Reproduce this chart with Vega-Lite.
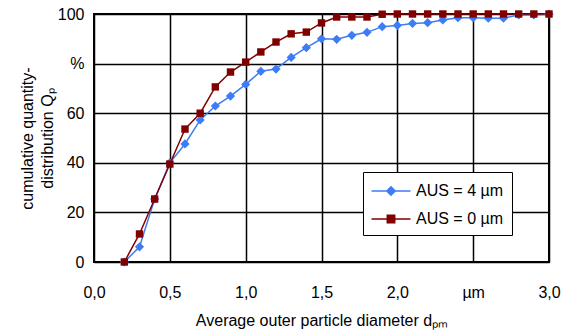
{
  "$schema": "https://vega.github.io/schema/vega-lite/v6.json",
  "width": 455,
  "height": 248,
  "autosize": {"type": "none"},
  "padding": {"left": 94, "top": 14, "right": 21, "bottom": 72},
  "background": "white",
  "config": {
    "font": "Liberation Sans",
    "view": {"stroke": "black", "strokeWidth": 2},
    "axis": {
      "labelFont": "Liberation Sans",
      "titleFont": "Liberation Sans",
      "labelFontSize": 16,
      "titleFontSize": 16,
      "titleFontWeight": "normal",
      "labelColor": "black",
      "titleColor": "black",
      "domain": false,
      "ticks": false,
      "gridColor": "black",
      "gridWidth": 1.5,
      "gridOpacity": 1
    }
  },
  "data": {
    "values": [
      {"d": 0.2, "Q": 0, "A": "4"},
      {"d": 0.3, "Q": 6.1, "A": "4"},
      {"d": 0.4, "Q": 25.4, "A": "4"},
      {"d": 0.5, "Q": 40, "A": "4"},
      {"d": 0.6, "Q": 47.6, "A": "4"},
      {"d": 0.7, "Q": 57.3, "A": "4"},
      {"d": 0.8, "Q": 62.9, "A": "4"},
      {"d": 0.9, "Q": 66.9, "A": "4"},
      {"d": 1.0, "Q": 71.6, "A": "4"},
      {"d": 1.1, "Q": 76.9, "A": "4"},
      {"d": 1.2, "Q": 77.8, "A": "4"},
      {"d": 1.3, "Q": 82.5, "A": "4"},
      {"d": 1.4, "Q": 86.4, "A": "4"},
      {"d": 1.5, "Q": 90.0, "A": "4"},
      {"d": 1.6, "Q": 89.8, "A": "4"},
      {"d": 1.7, "Q": 91.4, "A": "4"},
      {"d": 1.8, "Q": 92.6, "A": "4"},
      {"d": 1.9, "Q": 94.9, "A": "4"},
      {"d": 2.0, "Q": 95.4, "A": "4"},
      {"d": 2.1, "Q": 96.2, "A": "4"},
      {"d": 2.2, "Q": 96.5, "A": "4"},
      {"d": 2.3, "Q": 97.6, "A": "4"},
      {"d": 2.4, "Q": 98.5, "A": "4"},
      {"d": 2.5, "Q": 98.5, "A": "4"},
      {"d": 2.6, "Q": 98.3, "A": "4"},
      {"d": 2.7, "Q": 98.3, "A": "4"},
      {"d": 2.8, "Q": 99.6, "A": "4"},
      {"d": 2.9, "Q": 99.6, "A": "4"},
      {"d": 3.0, "Q": 100, "A": "4"},
      {"d": 0.2, "Q": 0, "A": "0"},
      {"d": 0.3, "Q": 11.3, "A": "0"},
      {"d": 0.4, "Q": 25.4, "A": "0"},
      {"d": 0.5, "Q": 39.5, "A": "0"},
      {"d": 0.6, "Q": 53.6, "A": "0"},
      {"d": 0.7, "Q": 60, "A": "0"},
      {"d": 0.8, "Q": 70.6, "A": "0"},
      {"d": 0.9, "Q": 76.6, "A": "0"},
      {"d": 1.0, "Q": 80.6, "A": "0"},
      {"d": 1.1, "Q": 84.7, "A": "0"},
      {"d": 1.2, "Q": 88.7, "A": "0"},
      {"d": 1.3, "Q": 92, "A": "0"},
      {"d": 1.4, "Q": 92.7, "A": "0"},
      {"d": 1.5, "Q": 96.4, "A": "0"},
      {"d": 1.6, "Q": 98.8, "A": "0"},
      {"d": 1.7, "Q": 98.8, "A": "0"},
      {"d": 1.8, "Q": 98.8, "A": "0"},
      {"d": 1.9, "Q": 99.9, "A": "0"},
      {"d": 2.0, "Q": 100, "A": "0"},
      {"d": 2.1, "Q": 100, "A": "0"},
      {"d": 2.2, "Q": 100, "A": "0"},
      {"d": 2.3, "Q": 100, "A": "0"},
      {"d": 2.4, "Q": 100, "A": "0"},
      {"d": 2.5, "Q": 100, "A": "0"},
      {"d": 2.6, "Q": 100, "A": "0"},
      {"d": 2.7, "Q": 100, "A": "0"},
      {"d": 2.8, "Q": 100, "A": "0"},
      {"d": 2.9, "Q": 100, "A": "0"},
      {"d": 3.0, "Q": 100, "A": "0"}
    ]
  },
  "encoding": {
    "x": {
      "field": "d",
      "type": "quantitative",
      "scale": {"domain": [0, 3], "nice": false, "zero": false},
      "axis": {
        "values": [0, 0.5, 1, 1.5, 2, 2.5, 3],
        "labelExpr": "datum.value == 2.5 ? 'µm' : replace(format(datum.value, '.1f'), '.', ',')",
        "labelPadding": 22,
        "labelFlush": false,
        "title": "Average outer particle diameter dₚₘ",
        "titlePadding": 12
      }
    },
    "y": {
      "field": "Q",
      "type": "quantitative",
      "scale": {"domain": [0, 100], "nice": false},
      "axis": {
        "values": [0, 20, 40, 60, 80, 100],
        "labelExpr": "datum.value == 80 ? '%' : datum.label",
        "labelPadding": 10,
        "title": ["cumulative quantity-", "distribution Qₚ"],
        "titlePadding": 2,
        "titleLineHeight": 20
      }
    },
    "color": {
      "field": "A",
      "type": "nominal",
      "scale": {"domain": ["4", "0"], "range": ["#3d7cf5", "#800000"]},
      "legend": {
        "title": null,
        "orient": "none",
        "legendX": 269,
        "legendY": 158,
        "strokeColor": "black",
        "fillColor": "white",
        "padding": 8,
        "labelFontSize": 16,
        "labelFont": "Liberation Sans",
        "labelColor": "black",
        "rowPadding": 9,
        "symbolSize": 400,
        "symbolStrokeWidth": 1.5,
        "symbolOffset": 9,
        "labelOffset": 14,
        "labelExpr": "'AUS = ' + datum.label + ' µm'",
        "encode": {
          "symbols": {
            "update": {
              "shape": {"signal": "datum.value == '4' ? 'M-1.95,0H1.95M0,-0.42L0.42,0L0,0.42L-0.42,0Z' : 'M-1.95,0H1.95M-0.37,-0.37H0.37V0.37H-0.37Z'"},
              "fill": {"signal": "datum.value == '4' ? '#3d7cf5' : '#800000'"},
              "stroke": {"signal": "datum.value == '4' ? '#3d7cf5' : '#800000'"},
              "strokeWidth": {"value": 1.5},
              "opacity": {"value": 1}
            }
          }
        }
      }
    }
  },
  "layer": [
    {"mark": {"type": "line", "strokeWidth": 1.5}},
    {
      "transform": [{"filter": "datum.A == '4'"}],
      "mark": {"type": "point", "filled": true, "opacity": 1, "shape": "diamond", "size": 85}
    },
    {
      "transform": [{"filter": "datum.A == '0'"}],
      "mark": {"type": "point", "filled": true, "opacity": 1, "shape": "square", "size": 55}
    }
  ]
}
